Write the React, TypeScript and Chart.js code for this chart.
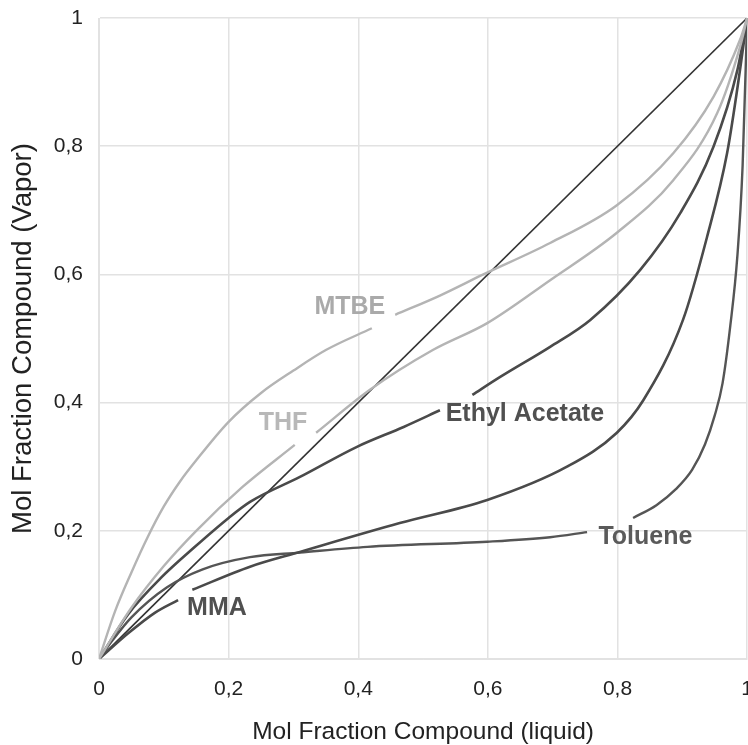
import React, { useEffect, useRef } from "react";
import { Chart, registerables } from "chart.js";

Chart.register(...registerables);

// ---- data ----
const tickLabels = ["0", "0,2", "0,4", "0,6", "0,8", "1"];

const diagX = [0, 1];
const diagY = [0, 1];

const mtbeX = [0, 0.025, 0.05, 0.075, 0.1, 0.125, 0.15, 0.2, 0.25, 0.3, 0.35, 0.421, 0.44, 0.457, 0.526, 0.593, 0.696, 0.799, 0.886, 0.948, 0.989, 1];
const mtbeY = [0, 0.075, 0.135, 0.19, 0.238, 0.277, 0.31, 0.37, 0.415, 0.45, 0.482, 0.516, null, 0.537, 0.567, 0.6, 0.649, 0.708, 0.789, 0.877, 0.966, 1];

const thfX = [0, 0.05, 0.1, 0.15, 0.221, 0.302, 0.32, 0.335, 0.418, 0.515, 0.599, 0.696, 0.799, 0.886, 0.954, 0.989, 1];
const thfY = [0, 0.08, 0.145, 0.2, 0.268, 0.334, null, 0.353, 0.42, 0.482, 0.524, 0.591, 0.665, 0.747, 0.852, 0.955, 1];

const ethylX = [0, 0.045, 0.097, 0.148, 0.2, 0.233, 0.31, 0.398, 0.47, 0.526, 0.55, 0.576, 0.619, 0.696, 0.758, 0.835, 0.897, 0.948, 0.985, 1];
const ethylY = [0, 0.07, 0.128, 0.175, 0.22, 0.245, 0.284, 0.331, 0.362, 0.388, null, 0.412, 0.44, 0.487, 0.529, 0.607, 0.696, 0.799, 0.919, 1];

const mmaX = [0, 0.045, 0.086, 0.122, 0.133, 0.144, 0.233, 0.31, 0.464, 0.599, 0.722, 0.799, 0.84, 0.901, 0.938, 0.969, 0.989, 1];
const mmaY = [0, 0.04, 0.072, 0.092, null, 0.108, 0.144, 0.167, 0.212, 0.248, 0.3, 0.353, 0.404, 0.529, 0.658, 0.789, 0.919, 1];

const tolueneX = [0, 0.02, 0.05, 0.105, 0.16, 0.233, 0.31, 0.414, 0.599, 0.696, 0.753, 0.79, 0.824, 0.86, 0.89, 0.915, 0.935, 0.95, 0.962, 0.974, 0.985, 0.993, 1];
const tolueneY = [0, 0.028, 0.065, 0.112, 0.14, 0.159, 0.166, 0.175, 0.183, 0.19, 0.198, null, 0.22, 0.24, 0.265, 0.295, 0.335, 0.38, 0.43, 0.52, 0.63, 0.77, 1];

const labelNames = ["MTBE", "THF", "Ethyl Acetate", "Toluene", "MMA"];
const labelX = [0.387, 0.284, 0.657, 0.843, 0.182];
const labelY = [0.549, 0.368, 0.382, 0.19, 0.08];

const FONT = "'Liberation Sans', Arial, sans-serif";
const LIGHT = "#b4b4b4";
const DARK = "#4a4a4a";
const labelColors = ["#aaaaaa", "#b8b8b8", "#505050", "#5a5a5a", "#505050"];

const pts = (xs: number[], ys: (number | null)[]) => xs.map((x, i) => ({ x, y: ys[i] }));

const curveLabels = {
  id: "curveLabels",
  afterDatasetsDraw(chart: any) {
    const { ctx, scales } = chart;
    ctx.save();
    ctx.font = `bold 25px ${FONT}`;
    ctx.textAlign = "center";
    ctx.textBaseline = "middle";
    labelNames.forEach((t, i) => {
      ctx.fillStyle = labelColors[i];
      ctx.fillText(t, scales.x.getPixelForValue(labelX[i]), scales.y.getPixelForValue(labelY[i]));
    });
    ctx.restore();
  },
};

export default function App() {
  const ref = useRef<HTMLCanvasElement | null>(null);
  useEffect(() => {
    if (!ref.current) return;
    const line = (data: any, color: string, width: number) => ({
      data,
      borderColor: color,
      backgroundColor: color,
      borderWidth: width,
      pointRadius: 0,
      fill: false,
      spanGaps: false,
      cubicInterpolationMode: "monotone" as const,
    });
    const chart = new Chart(ref.current, {
      type: "line",
      data: {
        datasets: [
          line(pts(mtbeX, mtbeY), LIGHT, 2.4),
          line(pts(thfX, thfY), LIGHT, 2.4),
          line(pts(ethylX, ethylY), DARK, 2.6),
          line(pts(mmaX, mmaY), DARK, 2.6),
          line(pts(tolueneX, tolueneY), "#555555", 2.4),
          { ...line(pts(diagX, diagY), "#333333", 1.6), cubicInterpolationMode: "default" as const },
        ],
      },
      options: {
        animation: false,
        responsive: true,
        maintainAspectRatio: false,
        layout: { padding: { top: 18, right: 0, left: 0, bottom: 0 } },
        plugins: { legend: { display: false }, tooltip: { enabled: false } },
        scales: {
          x: {
            type: "linear",
            min: 0,
            max: 1,
            border: { color: "#e2e2e2" },
            grid: { color: "#e2e2e2", drawTicks: true, tickLength: 18, tickColor: "rgba(0,0,0,0)", lineWidth: 1.5 },
            ticks: {
              stepSize: 0.2,
              padding: 0,
              color: "#222",
              font: { family: FONT, size: 21 },
              callback: (_v: any, i: number) => tickLabels[i],
            },
            title: {
              display: true,
              text: "Mol Fraction Compound (liquid)",
              color: "#222",
              font: { family: FONT, size: 24.5 },
              padding: { top: 0, bottom: -2 },
            },
            afterFit: (s: any) => { s.height = 86; },
          },
          y: {
            type: "linear",
            min: 0,
            max: 1,
            border: { color: "#e2e2e2" },
            grid: { color: "#e2e2e2", drawTicks: true, tickLength: 16, tickColor: "rgba(0,0,0,0)", lineWidth: 1.5 },
            ticks: {
              stepSize: 0.2,
              padding: 0,
              color: "#222",
              font: { family: FONT, size: 21 },
              callback: (_v: any, i: number) => tickLabels[i],
            },
            title: {
              display: true,
              text: "Mol Fraction Compound (Vapor)",
              color: "#222",
              font: { family: FONT, size: 27.5 },
              padding: { top: 7, bottom: 0 },
            },
            afterFit: (s: any) => { s.width = 99; },
          },
        },
      },
      plugins: [curveLabels],
    });
    return () => chart.destroy();
  }, []);
  return (
    <div style={{ position: "fixed", left: 0, top: 0, width: "100vw", height: "100vh", overflow: "hidden", background: "#fff" }}>
      <div style={{ position: "relative", width: 753, height: 745 }}>
        <canvas ref={ref} />
      </div>
    </div>
  );
}
